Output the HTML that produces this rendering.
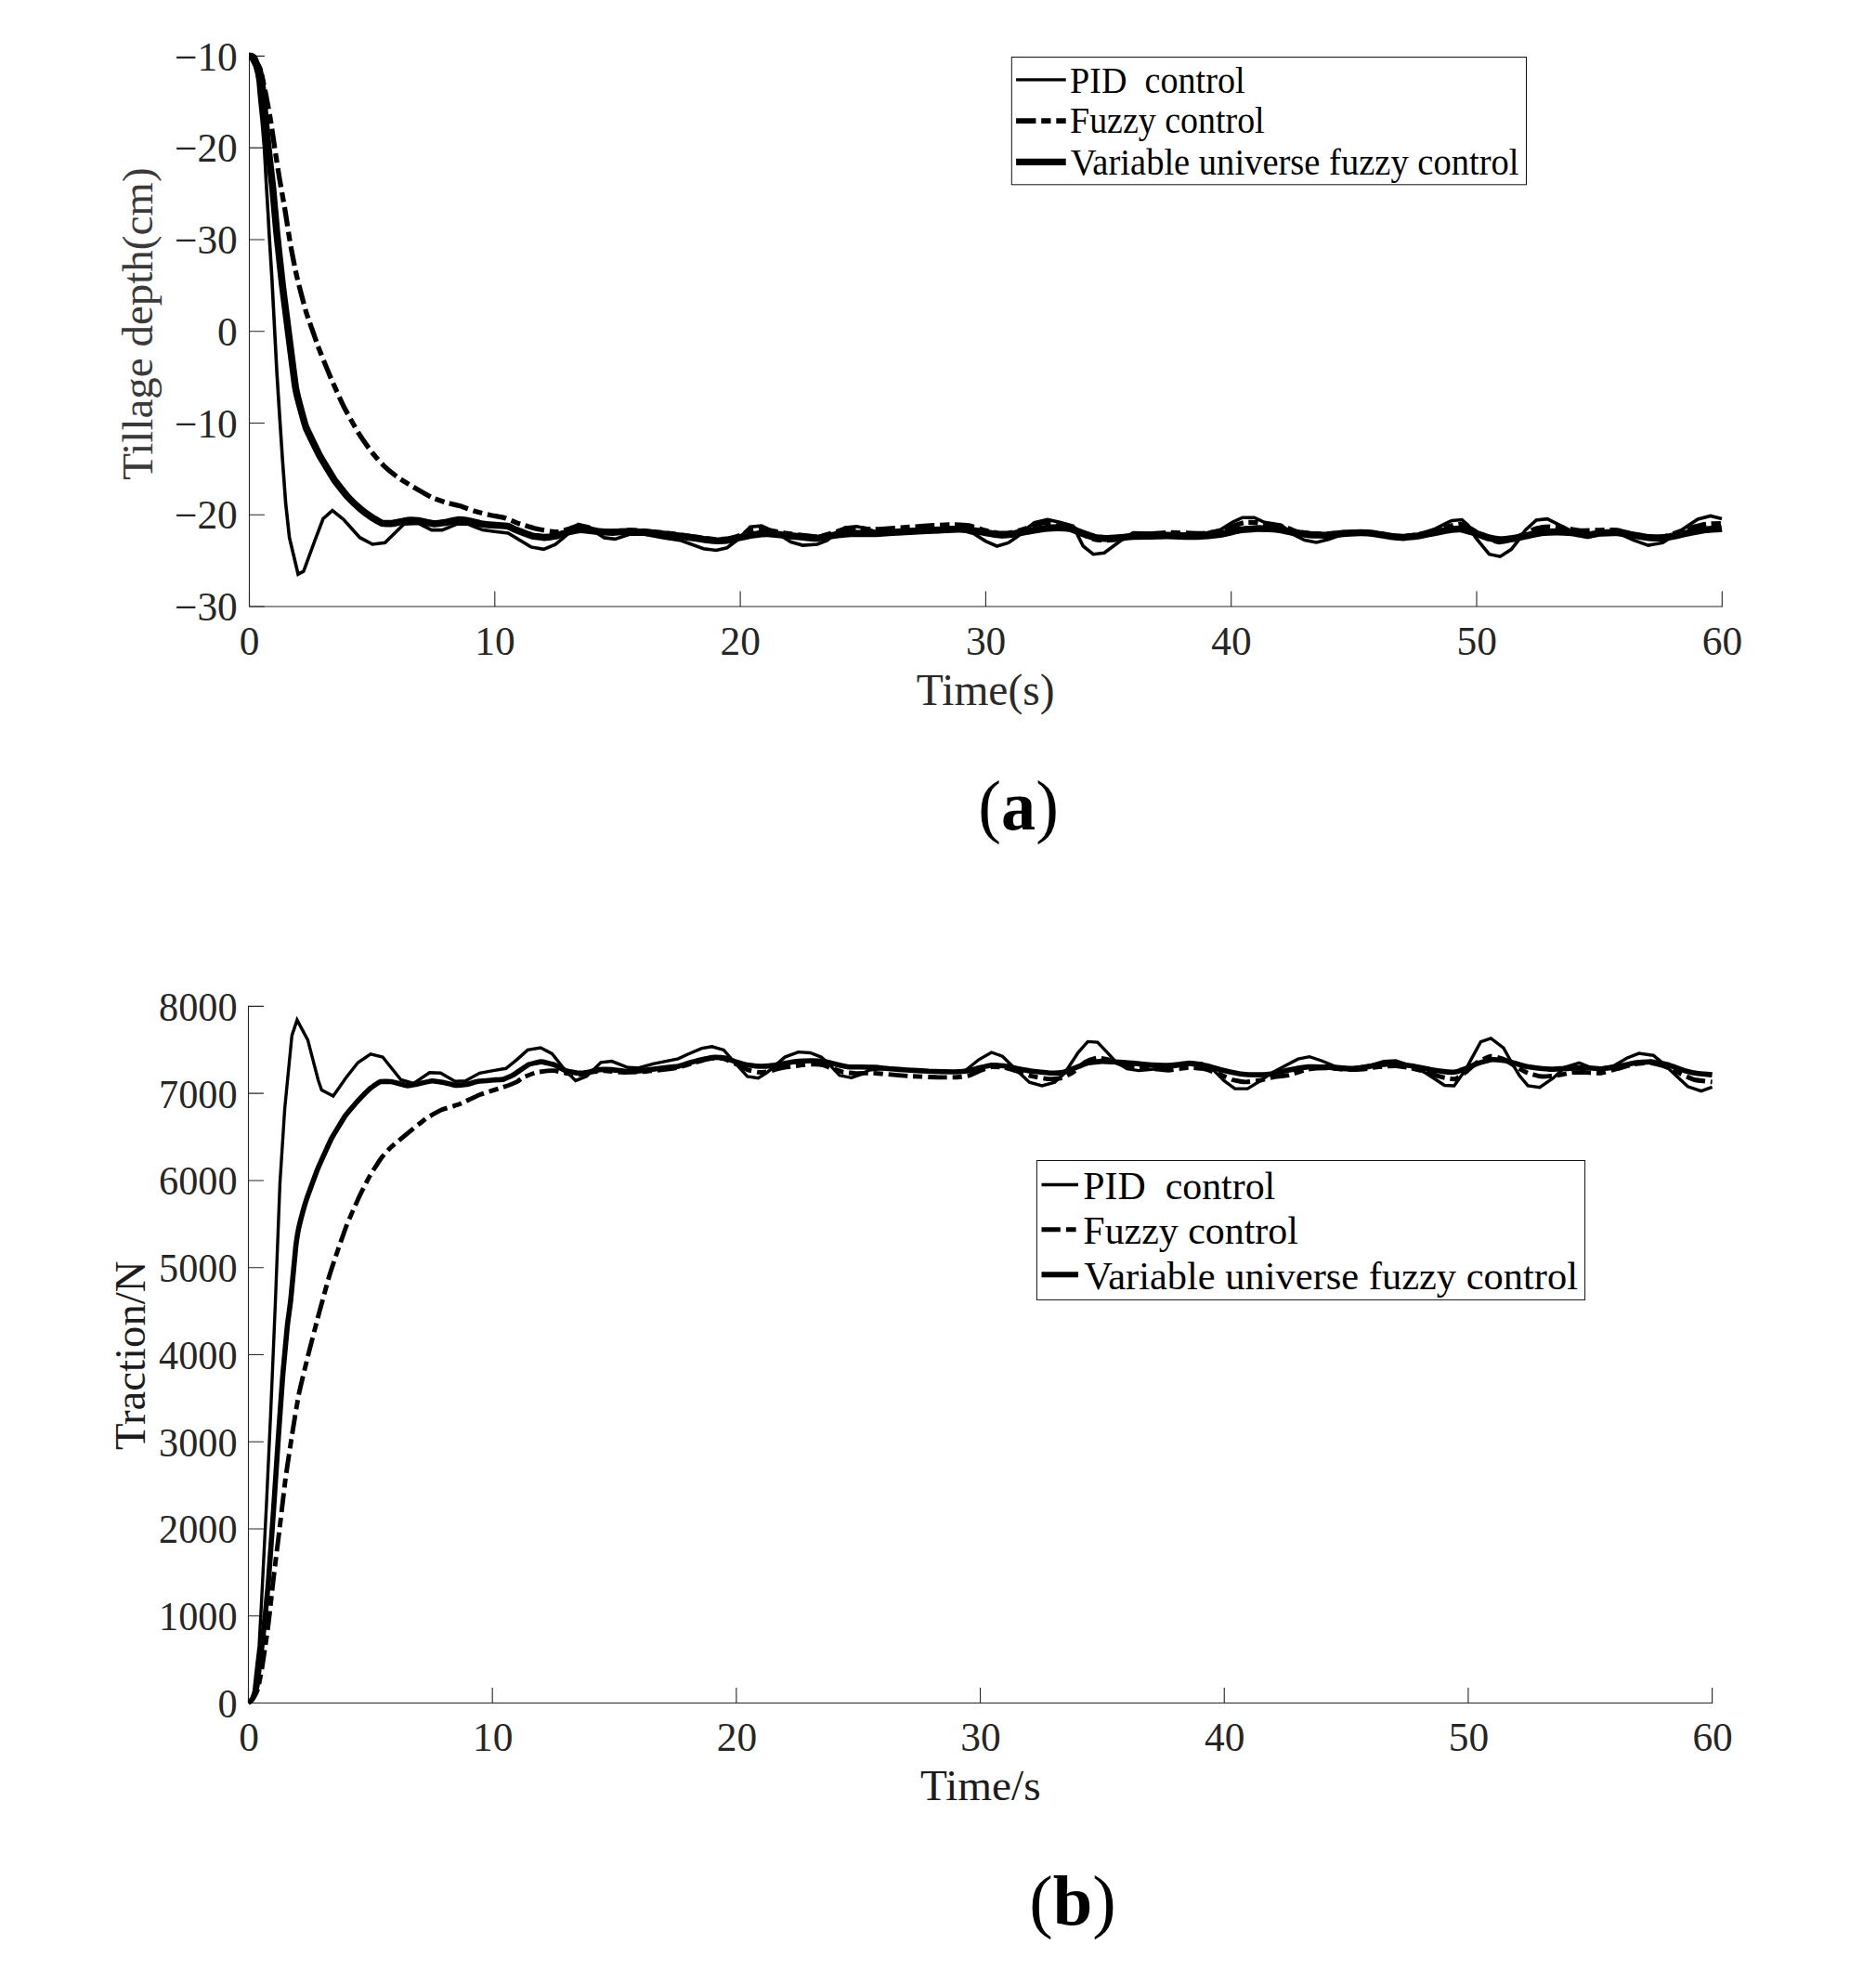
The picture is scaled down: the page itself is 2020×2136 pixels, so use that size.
<!DOCTYPE html>
<html lang="en">
<head>
<meta charset="utf-8">
<title>Tillage depth and traction simulation</title>
<style>
html,body{margin:0;padding:0;background:#fff;}
body{width:2020px;height:2136px;overflow:hidden;}
svg{display:block;}
text{font-family:"Liberation Serif","Times New Roman",Times,serif;}
.ax{stroke:#262626;stroke-width:1.1;fill:none;}
.c{fill:none;stroke:#000;stroke-linejoin:miter;stroke-linecap:butt;}
</style>
</head>
<body>
<svg width="2020" height="2136" viewBox="0 0 2020 2136">
<rect x="0" y="0" width="2020" height="2136" fill="#ffffff"/>
<defs>
<clipPath id="clipA"><rect x="267.9" y="40" width="1600" height="620"/></clipPath>
<clipPath id="clipB"><rect x="266.9" y="1070" width="1600" height="766.5"/></clipPath>
</defs>
<!-- chart (a): tillage depth -->
<g>
<path class="ax" d="M268.5 59.8 V653 H1854.9"/>
<path class="ax" d="M268.5 60.4 h16.4 M268.5 159.17 h16.4 M268.5 257.93 h16.4 M268.5 356.7 h16.4 M268.5 455.47 h16.4 M268.5 554.23 h16.4 M268.5 653 h16.4 M268.5 653 v-16.4 M532.8 653 v-16.4 M797.1 653 v-16.4 M1061.4 653 v-16.4 M1325.7 653 v-16.4 M1590 653 v-16.4 M1854.3 653 v-16.4"/>
<text transform="translate(255.8 75.6)" font-size="43.4" fill="#262626" text-anchor="end">−10</text>
<text transform="translate(255.8 174.37)" font-size="43.4" fill="#262626" text-anchor="end">−20</text>
<text transform="translate(255.8 273.13)" font-size="43.4" fill="#262626" text-anchor="end">−30</text>
<text transform="translate(255.8 371.9)" font-size="43.4" fill="#262626" text-anchor="end">0</text>
<text transform="translate(255.8 470.67)" font-size="43.4" fill="#262626" text-anchor="end">−10</text>
<text transform="translate(255.8 569.43)" font-size="43.4" fill="#262626" text-anchor="end">−20</text>
<text transform="translate(255.8 668.2)" font-size="43.4" fill="#262626" text-anchor="end">−30</text>
<text transform="translate(268.7 704.6)" font-size="43.4" fill="#262626" text-anchor="middle">0</text>
<text transform="translate(533 704.6)" font-size="43.4" fill="#262626" text-anchor="middle">10</text>
<text transform="translate(797.3 704.6)" font-size="43.4" fill="#262626" text-anchor="middle">20</text>
<text transform="translate(1061.6 704.6)" font-size="43.4" fill="#262626" text-anchor="middle">30</text>
<text transform="translate(1325.9 704.6)" font-size="43.4" fill="#262626" text-anchor="middle">40</text>
<text transform="translate(1590.2 704.6)" font-size="43.4" fill="#262626" text-anchor="middle">50</text>
<text transform="translate(1854.5 704.6)" font-size="43.4" fill="#262626" text-anchor="middle">60</text>
<text transform="translate(1061.2 758.5) scale(0.982 1)" font-size="48.4" fill="#2a2a2a" text-anchor="middle">Time(s)</text>
<text transform="translate(164.1 348.6) rotate(-90)" font-size="47" fill="#3a3a3a" text-anchor="middle">Tillage depth(cm)</text>
</g>
<g clip-path="url(#clipA)">
<path class="c" stroke-width="3.6" d="M268.5 60.4 L270.8 64 L274.4 71.3 L276.7 79.9 L278 88.4 L279.1 101.2 L280.4 114 L282.1 130.3 L284.6 159 L286.9 200.8 L288.6 228.8 L289.8 251.2 L292.8 300 L294.9 340 L298.1 400.8 L301.3 451.2 L304.2 495 L307.6 541.6 L311.6 578.7 L321 618.2 L326.9 615 L339 582 L347.9 558.5 L357.9 549.7 L369.7 559 L387.4 578.7 L401.1 586 L414.5 584.4 L435 564.2 L450.3 563.4 L464.8 570.6 L476.1 570.6 L492.3 564.2 L503.5 564.2 L519.7 570.6 L532.6 572.3 L547.2 574 L571.7 588.9 L585.3 591.3 L598 586.2 L608.9 577.1 L622.5 564.4 L634.2 567.2 L643.3 574.4 L650.5 578.9 L662.3 580.4 L677.7 575.3 L694 575.3 L714 578.9 L732.1 581.6 L757.5 590.7 L771.1 592.5 L782.8 589.8 L793.7 581.6 L807.9 567.2 L820 566.2 L828.1 569.9 L844.5 578.9 L851.7 583.5 L864.4 587.1 L880 586 L890.9 581.6 L899.9 573.5 L909.9 568.1 L922.6 566.8 L932.6 569 L943.4 572.6 L970 572 L997.8 571.5 L1034 570.5 L1048.5 574.4 L1061.2 582.6 L1073.5 588 L1085.7 584.4 L1095.7 577.5 L1105.6 569 L1113.8 562.6 L1127.9 559.4 L1141 562.3 L1155.5 566.2 L1166.3 588 L1177.2 596.7 L1189 595.2 L1206.2 582.6 L1220 573.5 L1256.2 574.4 L1292.5 575.3 L1314.2 570.2 L1326.9 562.3 L1337.8 557.2 L1350.5 557.2 L1361.4 562.3 L1379.5 565.3 L1392.2 575.3 L1404.9 581.6 L1417.5 584 L1430.2 580.7 L1442.9 576.2 L1459.2 573.5 L1482.8 574.4 L1497.3 578 L1511.8 578.9 L1528.1 576.2 L1544.4 569.9 L1560 561.9 L1563.6 560.4 L1574.1 559.5 L1580.8 565.3 L1589 578.9 L1603.5 596.7 L1615.3 599.2 L1627.1 591.6 L1634.3 582.6 L1642.5 570.8 L1654.2 559.9 L1666 558.6 L1679.6 565.3 L1690.5 570.8 L1709.5 578.6 L1723.1 574.4 L1741.2 573.5 L1759.3 581.6 L1774.8 587.1 L1790.2 584.4 L1802.8 576.2 L1815.5 567.2 L1828.2 559 L1841.8 555.4 L1854 558.6"/>
<path class="c" stroke-width="5.3" stroke-dasharray="21 5.7 10.3 5.7" stroke-dashoffset="-2" d="M266 60.4 C266.4 60.4 270.2 60.4 270.8 60.5 C271.4 60.6 272.5 61.5 272.8 61.8 C273.1 62.1 274.2 63.2 274.5 63.7 C274.8 64.2 276.1 66.8 276.6 67.8 C277.1 68.8 279.8 72.7 280.6 75.5 C281.4 78.3 285.3 96.7 286.2 101.3 C287.1 105.9 290.7 125.2 291.5 130.3 C292.3 135.4 295.5 157.4 296.3 162.6 C297.1 167.8 300.2 188 301.1 193.2 C302 198.4 305.8 219.4 306.8 225.5 C307.8 231.6 312.1 259.8 313.2 265.8 C314.3 271.8 318.3 292.2 319.7 298 C321.1 303.8 327.5 329 329.4 335.2 C331.3 341.4 340.2 366.5 342.3 372.3 C344.4 378.1 352.9 399.1 355.2 404.5 C357.5 409.9 367.1 431.7 369.7 436.8 C372.2 441.9 383.2 461.6 385.8 465.8 C388.4 470 398 483.8 400.3 486.8 C402.6 489.8 410.9 499.1 413.2 501.3 C415.5 503.5 424.9 511.4 427.7 513.4 C430.5 515.4 444 523.7 447.1 525.5 C450.2 527.3 462.1 534.2 464.8 535.5 C467.5 536.8 476.8 540 479.4 540.8 C482 541.6 492.8 544 495.5 544.8 C498.2 545.6 508.9 549.7 511.6 550.5 C514.3 551.3 525 553.9 527.7 554.5 C530.4 555.1 541.4 557 543.9 557.7 C546.4 558.5 555.4 562.6 558.1 563.5 C560.8 564.4 573.3 568.3 576.2 569 C579.1 569.7 590.5 571.7 592.6 572 C594.7 572.3 599.9 572.8 601.6 572.6 C603.3 572.4 610.8 570 612.5 569.5 C614.2 569 620.7 566.2 622.5 566.2 C624.3 566.2 632 568.5 634.2 569 C636.4 569.5 646.3 571.5 648.7 571.7 C651.1 572 660.8 572.1 663.2 572 C665.6 571.9 675.1 570.8 677.7 570.8 C680.3 570.8 690.4 571.4 694 571.7 C697.6 572 717.4 574 721.2 574.4 C725 574.8 736.3 576.4 739.3 576.8 C742.3 577.2 754.8 579 757.5 579.3 C760.2 579.6 769.7 580.7 772 580.7 C774.3 580.7 782.6 580.2 784.7 579.8 C786.8 579.4 795.3 577 797.3 576.2 C799.3 575.5 806.3 571.4 808.2 570.8 C810.1 570.2 818.2 569 820 569 C821.8 569 827.9 570.9 829.9 571.3 C831.9 571.7 841.8 573.5 844.5 573.9 C847.2 574.3 859.6 575.9 862.6 576.2 C865.6 576.5 877.3 578.1 880 578 C882.7 577.9 892 575.1 894.5 574.4 C897 573.7 907.6 570 909.9 569.5 C912.2 569 920 568.4 922.6 568.4 C925.2 568.4 937.6 569.9 941.6 569.9 C945.6 569.9 965.9 568.4 970.6 568.1 C975.3 567.8 993.3 566.5 997.8 566.2 C1002.3 565.9 1021.2 564.8 1025 564.8 C1028.8 564.8 1040.4 565.4 1043.1 565.9 C1045.8 566.4 1055 569.5 1057.6 570.2 C1060.2 570.9 1071.3 573.6 1073.9 573.9 C1076.5 574.2 1085.8 573.9 1088.4 573.5 C1091 573.1 1102.4 569.8 1104.7 569 C1107 568.2 1113.6 565 1115.6 564.4 C1117.6 563.8 1126.2 562.3 1128.3 562.3 C1130.4 562.3 1138.7 563.9 1141 564.4 C1143.3 564.9 1153.4 567.2 1155.5 568.1 C1157.6 569 1164.3 574.2 1166.3 575.3 C1168.3 576.3 1176.9 580.2 1179 580.7 C1181.1 581.2 1189.4 581.7 1191.7 581.6 C1194 581.5 1203.8 580.2 1206.2 579.8 C1208.6 579.4 1215.8 577 1220 576.5 C1224.2 576 1250.2 573.7 1256.2 573.5 C1262.2 573.3 1287.7 574.5 1292.5 574.4 C1297.3 574.3 1311.2 572.7 1314.2 572 C1317.2 571.3 1326.6 567 1328.7 566.2 C1330.8 565.4 1337.5 562.9 1339.6 562.6 C1341.7 562.3 1352 562.4 1354.1 562.6 C1356.2 562.8 1362.6 564.4 1365 564.8 C1367.4 565.2 1380.7 566.6 1383.1 567.2 C1385.5 567.8 1391.7 571.1 1394 571.7 C1396.3 572.3 1407.4 574.1 1410.3 574.4 C1413.2 574.7 1425.4 575 1428.4 574.9 C1431.4 574.8 1443.5 573.7 1446.5 573.5 C1449.5 573.3 1461.7 572.6 1464.7 572.6 C1467.7 572.6 1480.1 573.5 1482.8 573.9 C1485.5 574.2 1494.9 576.5 1497.3 576.8 C1499.7 577.1 1509.2 577.6 1511.8 577.5 C1514.4 577.4 1525.4 575.9 1528.1 575.3 C1530.8 574.7 1541.7 571.5 1544.4 570.8 C1547.1 570.1 1557.6 567.2 1560 566.7 C1562.4 566.2 1570.7 564.2 1572.7 564.4 C1574.7 564.6 1581.2 567.7 1583.6 569 C1586 570.3 1599.1 578.6 1601.7 579.8 C1604.3 581 1612.1 583.4 1614.4 583.5 C1616.7 583.6 1626.6 581.5 1628.9 580.7 C1631.2 579.9 1639.5 575.4 1641.6 574.4 C1643.7 573.4 1651.9 569.6 1654.2 569 C1656.5 568.4 1666.3 567.2 1668.7 567.2 C1671.1 567.2 1680.5 568.1 1683.2 568.4 C1685.9 568.7 1698.1 571.1 1701.4 571.3 C1704.7 571.5 1719.8 570.8 1723.1 570.8 C1726.4 570.8 1738.2 570.4 1741.2 570.8 C1744.2 571.2 1756.3 574.6 1759.3 575.3 C1762.3 575.9 1774.8 578.4 1777.5 578.6 C1780.2 578.8 1789.6 578 1792 577.5 C1794.4 577 1804.1 573.9 1806.5 573.1 C1808.9 572.3 1818.4 568.8 1821 568.1 C1823.6 567.4 1834.5 564.8 1837.3 564.4 C1840 564 1852.6 563.6 1854 563.5"/>
<path class="c" stroke-width="7.6" stroke-linejoin="round" d="M266 60.4 C266.2 60.4 270.5 60.4 270.8 60.5 C271.1 60.6 272.4 61.6 272.6 61.8 C272.8 62 273.9 63.4 274.1 63.7 C274.3 64 275.6 67.8 275.9 68.4 C276.2 69 279.1 75.5 279.4 76.6 C279.7 77.7 281.8 88.2 282 90 C282.2 91.8 283.9 109.1 284.2 112.6 C284.5 116.1 288.3 155 288.8 159.4 C289.3 163.8 293.1 196.8 293.6 201.3 C294.1 205.8 297.4 244.5 297.9 249.7 C298.4 254.9 303.5 301.5 304 306 C304.5 310.5 307.8 336.3 308.3 340 C308.8 343.7 312.9 376.5 313.4 380.3 C313.9 384.1 317.6 413.1 318 415.8 C318.4 418.5 321.4 431.3 322 433.5 C322.6 435.7 328.3 457.2 329.4 460 C330.5 462.8 342.4 487.2 343.9 490 C345.4 492.8 358.5 514.4 360 516.6 C361.5 518.9 373.1 533.5 374.5 535 C375.9 536.5 386.1 546.2 387.4 547.3 C388.7 548.4 399.1 556.2 400.3 557 C401.5 557.8 410.5 563.1 411.6 563.4 C412.7 563.7 421.5 563.6 422.9 563.4 C424.3 563.2 437.6 560.3 439 560.2 C440.4 560.1 448.9 560.4 450.3 560.6 C451.7 560.8 465.8 563.8 467.3 563.9 C468.8 564 478.1 562.8 479.4 562.6 C480.6 562.4 491.1 559.8 492.3 559.7 C493.5 559.6 502.2 560.4 503.5 560.6 C504.8 560.8 516.5 563.7 518 563.9 C519.5 564.1 532.7 565.4 534.2 565.5 C535.7 565.6 546 566.3 547.1 566.6 C548.2 566.9 555 570.3 556.3 570.8 C557.6 571.3 571.1 576.4 572.6 576.8 C574.1 577.2 584 578.6 585.3 578.6 C586.6 578.6 596.6 577.4 598 577.1 C599.4 576.8 611.1 572.9 612.5 572.6 C613.9 572.3 623.8 570.2 625.2 570.2 C626.7 570.2 639.8 571.9 641.5 572 C643.2 572.1 657.8 573.1 659.6 573.1 C661.4 573.1 676 572 677.7 572 C679.4 572 691.8 572.9 694 573.1 C696.2 573.3 718.9 575.5 721.2 575.7 C723.5 575.9 737.5 577.8 739.3 578 C741.1 578.2 755.9 580.5 757.5 580.7 C759.1 580.9 770.6 582.2 772 582.2 C773.4 582.2 783.4 581.8 784.7 581.6 C786 581.4 795.9 578.9 797.3 578.6 C798.7 578.3 810.3 575.9 811.8 575.7 C813.2 575.5 824.7 574.4 826.3 574.4 C827.9 574.4 842.7 576 844.5 576.2 C846.3 576.4 860.8 577.8 862.6 578 C864.4 578.2 878.2 579.6 880 579.5 C881.8 579.4 896.3 576.5 898.1 576.2 C899.9 575.9 913.9 574.5 916.2 574.4 C918.5 574.3 940.7 574.5 943.4 574.4 C946.1 574.3 967.9 572.8 970.6 572.6 C973.3 572.4 995.1 571.4 997.8 571.3 C1000.5 571.2 1022.7 570 1025 569.9 C1027.3 569.8 1041.3 570 1043.1 570.2 C1044.9 570.4 1059.6 573.2 1061.2 573.5 C1062.8 573.8 1074.3 575.6 1075.7 575.7 C1077.1 575.8 1086.9 575.5 1088.4 575.3 C1089.9 575.1 1104.7 572.3 1106.5 572 C1108.3 571.7 1123.1 569.2 1124.7 569 C1126.3 568.8 1137.8 568.1 1139.2 568.1 C1140.6 568.1 1150.4 568.7 1151.8 569 C1153.2 569.3 1164.9 573.9 1166.3 574.4 C1167.7 574.9 1177.7 578.3 1179 578.6 C1180.3 578.9 1190.3 579.8 1191.7 579.8 C1193.1 579.8 1204.8 579 1206.2 578.9 C1207.6 578.8 1217.5 577.6 1220 577.5 C1222.5 577.4 1252.8 576.8 1256.2 576.8 C1259.6 576.8 1286 577.6 1288.9 577.5 C1291.8 577.4 1311.9 575.6 1314.2 575.3 C1316.5 575 1332.2 571.1 1334.2 570.8 C1336.2 570.5 1352 569 1354.1 569 C1356.2 569 1374 569.7 1375.9 569.9 C1377.8 570.1 1390.5 572.8 1392.2 573.1 C1393.9 573.4 1408.5 575.5 1410.3 575.7 C1412.1 575.9 1426.6 576.3 1428.4 576.2 C1430.2 576.1 1444.7 574.5 1446.5 574.4 C1448.3 574.3 1462.9 573.5 1464.7 573.5 C1466.5 573.5 1481.2 574.7 1482.8 574.9 C1484.4 575.1 1495.8 577.3 1497.3 577.5 C1498.8 577.7 1510.3 578.6 1511.8 578.6 C1513.3 578.6 1526.5 577.1 1528.1 576.8 C1529.7 576.5 1542.8 573.8 1544.4 573.5 C1546 573.2 1558.6 570.7 1560 570.5 C1561.4 570.3 1571.3 569.4 1572.7 569.5 C1574.1 569.6 1585.8 573 1587.2 573.5 C1588.7 574 1600.3 578.2 1601.7 578.6 C1603.1 579 1613 581 1614.4 581.1 C1615.8 581.2 1627.5 580 1628.9 579.8 C1630.4 579.6 1641.9 577.1 1643.4 576.8 C1644.9 576.5 1658.1 573.7 1659.7 573.5 C1661.3 573.3 1674.4 572.6 1676 572.6 C1677.6 572.6 1690.6 573.3 1692.3 573.5 C1694 573.7 1708 576.2 1709.5 576.2 C1711 576.2 1721.5 574 1723.1 573.9 C1724.7 573.8 1739.4 573.4 1741.2 573.5 C1743 573.6 1757.5 575.9 1759.3 576.2 C1761.1 576.5 1775.9 578.8 1777.5 578.9 C1779.1 579 1790.5 579 1792 578.9 C1793.5 578.8 1805 576.5 1806.5 576.2 C1808 575.9 1819.5 573.4 1821 573.1 C1822.5 572.8 1835.6 570.4 1837.3 570.2 C1839 570 1853.2 569.1 1854 569"/>
</g>
<g>
<rect x="1089.3" y="61.5" width="554.2" height="137.3" fill="#fff" stroke="#111" stroke-width="1"/>
<path class="c" stroke-width="3.1" d="M1094.1 85.9 H1147.7"/>
<path class="c" stroke-width="5.7" stroke-dasharray="21.3 5.8 10.3 5.8" d="M1094.1 130.1 H1147.7"/>
<path class="c" stroke-width="7.1" d="M1094.1 174.4 H1147.7"/>
<text transform="translate(1152.06 99.6) scale(0.968 1)" font-size="39.4" fill="#000" xml:space="preserve">PID  control</text>
<text transform="translate(1152.06 143.4) scale(0.963 1)" font-size="39.4" fill="#000">Fuzzy control</text>
<text transform="translate(1152.81 187.5) scale(0.9785 1)" font-size="39.4" fill="#000">Variable universe fuzzy control</text>
</g>
<text transform="translate(1053.36 892.7) scale(0.97 1)" font-size="76.5" fill="#000">(<tspan font-weight="bold">a</tspan>)</text>
<!-- chart (b): traction -->
<g>
<path class="ax" d="M267.5 1082.8 V1833.5 H1844.2"/>
<path class="ax" d="M267.5 1083.4 h16.4 M267.5 1177.16 h16.4 M267.5 1270.93 h16.4 M267.5 1364.69 h16.4 M267.5 1458.45 h16.4 M267.5 1552.21 h16.4 M267.5 1645.97 h16.4 M267.5 1739.74 h16.4 M267.5 1833.5 h16.4 M267.5 1833.5 v-16.4 M530.18 1833.5 v-16.4 M792.87 1833.5 v-16.4 M1055.55 1833.5 v-16.4 M1318.23 1833.5 v-16.4 M1580.92 1833.5 v-16.4 M1843.6 1833.5 v-16.4"/>
<text transform="translate(255.6 1098.9) scale(0.974 1)" font-size="43.4" fill="#262626" text-anchor="end">8000</text>
<text transform="translate(255.6 1192.66) scale(0.974 1)" font-size="43.4" fill="#262626" text-anchor="end">7000</text>
<text transform="translate(255.6 1286.43) scale(0.974 1)" font-size="43.4" fill="#262626" text-anchor="end">6000</text>
<text transform="translate(255.6 1380.19) scale(0.974 1)" font-size="43.4" fill="#262626" text-anchor="end">5000</text>
<text transform="translate(255.6 1473.95) scale(0.974 1)" font-size="43.4" fill="#262626" text-anchor="end">4000</text>
<text transform="translate(255.6 1567.71) scale(0.974 1)" font-size="43.4" fill="#262626" text-anchor="end">3000</text>
<text transform="translate(255.6 1661.47) scale(0.974 1)" font-size="43.4" fill="#262626" text-anchor="end">2000</text>
<text transform="translate(255.6 1755.24) scale(0.974 1)" font-size="43.4" fill="#262626" text-anchor="end">1000</text>
<text transform="translate(255.6 1849) scale(0.974 1)" font-size="43.4" fill="#262626" text-anchor="end">0</text>
<text transform="translate(268 1884.5)" font-size="43.4" fill="#262626" text-anchor="middle">0</text>
<text transform="translate(530.68 1884.5)" font-size="43.4" fill="#262626" text-anchor="middle">10</text>
<text transform="translate(793.37 1884.5)" font-size="43.4" fill="#262626" text-anchor="middle">20</text>
<text transform="translate(1056.05 1884.5)" font-size="43.4" fill="#262626" text-anchor="middle">30</text>
<text transform="translate(1318.73 1884.5)" font-size="43.4" fill="#262626" text-anchor="middle">40</text>
<text transform="translate(1581.42 1884.5)" font-size="43.4" fill="#262626" text-anchor="middle">50</text>
<text transform="translate(1844.1 1884.5)" font-size="43.4" fill="#262626" text-anchor="middle">60</text>
<text transform="translate(1055.75 1938.2)" font-size="47.3" fill="#1c1c1c" text-anchor="middle">Time/s</text>
<text transform="translate(155.9 1459.2) rotate(-90)" font-size="46.8" fill="#1c1c1c" text-anchor="middle">Traction/N</text>
</g>
<g clip-path="url(#clipB)">
<path class="c" stroke-width="3.4" d="M267.5 1833.2 L269.5 1831.5 L271.6 1828.2 L273.5 1820.6 L274.6 1810.6 L276.8 1790.4 L279 1771.9 L281.9 1718.7 L286.8 1621.9 L291.3 1525.1 L296.6 1400 L301.4 1274.3 L306.6 1193.7 L314.3 1114.9 L319.9 1098.1 L331.4 1119.6 L342.6 1162.8 L346.3 1173.5 L358.8 1180 L372.6 1160.3 L385.4 1144 L399.1 1134.9 L412 1138 L431.7 1162.5 L445.4 1166.3 L462.5 1154.8 L474.5 1155.3 L490 1164.2 L501.1 1163.7 L516.5 1155.3 L531.1 1152.6 L544.8 1150.3 L556.8 1140.6 L568.2 1130.4 L582.1 1128.1 L594.4 1134.4 L608 1151.6 L619.8 1163.4 L631.6 1158.9 L647 1143.9 L658.8 1142.6 L676 1149.3 L686.9 1149.8 L703.2 1145.3 L730.3 1139.9 L741.2 1134.8 L755.7 1128.6 L766.6 1126.8 L779.3 1130.4 L788.3 1140.8 L795.6 1148.9 L804.7 1158.9 L816.4 1160.7 L826.4 1154.4 L845.1 1138.1 L859.6 1132.6 L872.4 1133.5 L884.3 1138.1 L891.2 1144.1 L904 1157.8 L916.8 1160.3 L928.7 1156.1 L936 1152 L950 1150.5 L976.5 1152 L1000 1153.3 L1026.9 1154 L1039.5 1152.6 L1054 1140.8 L1067.6 1133 L1079.4 1137.2 L1092.1 1149.8 L1108.4 1165.2 L1122 1168.9 L1135.6 1165.2 L1146.5 1155.3 L1161 1133 L1171.3 1121.4 L1181.8 1122.1 L1191.8 1132.6 L1201.7 1143.5 L1213.5 1150.7 L1226.2 1152.6 L1240 1151.2 L1267.2 1148 L1279.9 1143.5 L1294.4 1144.9 L1307.1 1152.6 L1317.9 1163.4 L1329.7 1172.1 L1343.3 1172.1 L1356 1164.3 L1370.5 1154.4 L1385 1146.8 L1397.7 1140.2 L1410 1137.7 L1423 1142 L1437.5 1148 L1457.5 1149.8 L1475.6 1146.8 L1490.1 1142.6 L1502.8 1142 L1517.3 1146.8 L1533.6 1154.4 L1546.3 1162.5 L1555.3 1168.5 L1565.8 1168.9 L1578.1 1151.6 L1585.4 1138.1 L1594.4 1121.7 L1605.3 1117.8 L1618.9 1128.1 L1628.9 1146.2 L1636.1 1158 L1645.2 1168.9 L1657.9 1170.7 L1672.4 1160.7 L1685 1148.9 L1700.5 1144.4 L1714 1149.8 L1724.9 1149.8 L1737.6 1147.5 L1752.1 1139 L1764.8 1134.1 L1780.2 1136.2 L1790.2 1144.4 L1804.7 1158 L1817.3 1169.8 L1831.8 1174.7 L1843.6 1170.3"/>
<path class="c" stroke-width="4.9" stroke-dasharray="20.6 5.9 10.2 5.9" stroke-dashoffset="2.5" d="M267.5 1833.2 C267.7 1833.1 269.4 1831.9 269.8 1831.6 C270.2 1831.3 271.6 1830.1 272 1829.5 C272.4 1828.9 274.4 1825.7 274.9 1824.7 C275.3 1823.8 277.2 1820.5 277.8 1818.1 C278.4 1815.7 281.6 1799 282.2 1795.4 C282.8 1791.8 284.6 1779.3 285.2 1775.3 C285.8 1771.3 288.3 1754 289.1 1747.7 C289.9 1741.4 293.5 1707.8 294.5 1699.3 C295.5 1690.8 299.9 1655 301 1646.1 C302.1 1637.2 306.2 1601.4 307.3 1592.9 C308.4 1584.4 313.3 1552.2 314.5 1544.5 C315.7 1536.8 320.4 1508 321.8 1500.9 C323.2 1493.8 330 1466.5 331.6 1459.8 C333.2 1453.1 340.3 1426.1 341.6 1421.1 C342.9 1416.1 346.2 1404 347.3 1400 C348.4 1396 353.3 1378 354.6 1373.7 C355.9 1369.4 361.5 1352.6 363.1 1348 C364.7 1343.4 371.5 1323.5 373.4 1318.8 C375.3 1314.1 383.4 1295.7 385.4 1291.4 C387.4 1287.1 395.3 1271.2 397.4 1267.4 C399.5 1263.6 409.1 1248.7 411.1 1246 C413.1 1243.3 419.1 1236.9 421.4 1234.8 C423.7 1232.7 435.5 1222.9 438.6 1220.3 C441.7 1217.7 456 1206.1 459.1 1204 C462.2 1201.9 473.3 1195.9 476.3 1194.6 C479.3 1193.3 491.7 1190 495.1 1188.6 C498.5 1187.2 513.5 1179.8 517.4 1178.3 C521.3 1176.8 538.1 1171.7 541.4 1170.6 C544.7 1169.5 554.9 1165.5 556.8 1164.6 C558.6 1163.7 561.8 1160.6 563.6 1159.8 C565.4 1159 575.4 1155 578.1 1154.4 C580.8 1153.8 593.6 1152.5 596.2 1152.6 C598.8 1152.7 606.8 1154.9 608.9 1155.3 C611 1155.7 619.3 1157.2 621.6 1157.1 C623.9 1157 633.7 1154.8 636.1 1154.4 C638.5 1154.1 647.9 1152.9 650.6 1152.9 C653.3 1152.9 665.4 1154.3 668.7 1154.4 C672 1154.5 686.7 1154.2 690.5 1154 C694.3 1153.8 710.7 1152 714 1151.6 C717.3 1151.2 727.7 1149.9 730.3 1149.3 C732.9 1148.7 742.4 1145.6 744.8 1144.9 C747.2 1144.2 757.2 1141.3 759.3 1140.8 C761.4 1140.3 768.5 1139 770.2 1139 C771.9 1139 778.4 1139.7 780.2 1140.2 C782 1140.7 790 1144.3 792 1145.3 C794 1146.2 802.6 1150.8 804.7 1151.6 C806.8 1152.4 815.3 1154.2 817.3 1154.4 C819.3 1154.6 826.3 1153.9 828.2 1153.5 C830.1 1153.1 837.6 1150.6 840 1150.1 C842.4 1149.6 854.3 1147.9 857.1 1147.5 C859.9 1147.1 871.7 1145.9 874.1 1145.8 C876.5 1145.7 884.3 1146.1 886.1 1146.5 C887.9 1146.9 893.6 1149.4 895.4 1150.1 C897.2 1150.8 906.1 1153.8 908.2 1154.3 C910.3 1154.8 918.5 1155.5 921 1155.6 C923.5 1155.7 934.9 1155.1 938.1 1155.2 C941.3 1155.3 955.9 1156.6 959.4 1156.9 C962.9 1157.2 976.6 1158.4 980.7 1158.6 C984.8 1158.8 1004.6 1159.7 1008.7 1159.8 C1012.9 1159.9 1027.6 1160 1030.5 1159.8 C1033.4 1159.6 1041.1 1158.6 1043.2 1158 C1045.3 1157.4 1053.9 1153.4 1055.9 1152.6 C1057.9 1151.8 1065.5 1148.9 1067.6 1148.6 C1069.7 1148.3 1078.9 1148.9 1081.2 1149.3 C1083.5 1149.7 1093.3 1152.7 1095.7 1153.5 C1098.1 1154.3 1107.5 1157.7 1110.2 1158.4 C1112.9 1159.1 1125.6 1161.4 1128.3 1161.6 C1131 1161.8 1140.5 1161.3 1142.8 1160.7 C1145.1 1160.1 1153.4 1155.8 1155.5 1154.4 C1157.6 1153 1166.1 1144.8 1168.2 1143.5 C1170.3 1142.2 1178.8 1139.2 1180.9 1139 C1183 1138.8 1191.3 1140.2 1193.6 1140.8 C1195.9 1141.4 1205.7 1145.5 1208.1 1146.2 C1210.5 1146.9 1219.9 1148.5 1222.6 1148.9 C1225.3 1149.3 1237 1150.2 1240 1150.5 C1243 1150.8 1254.8 1152.3 1258.1 1152.2 C1261.4 1152.1 1276.6 1149.4 1279.9 1149.3 C1283.2 1149.2 1295.3 1150.5 1298 1151.1 C1300.7 1151.7 1310.1 1155.2 1312.5 1156.2 C1314.9 1157.2 1324.6 1161.8 1327 1162.5 C1329.4 1163.2 1339.1 1164.9 1341.5 1164.9 C1343.9 1165 1353.6 1163.5 1356 1163.1 C1358.4 1162.7 1367.9 1160.3 1370.5 1159.8 C1373.1 1159.3 1383.6 1158.3 1386.8 1157.6 C1390 1156.9 1405 1151.8 1408.5 1151.1 C1412 1150.4 1425 1149.8 1428.5 1149.8 C1432 1149.8 1446.9 1151.5 1450.2 1151.6 C1453.5 1151.7 1465.4 1151.3 1468.3 1151.1 C1471.2 1150.8 1481.8 1148.9 1484.7 1148.6 C1487.6 1148.3 1499.9 1147.4 1502.8 1147.5 C1505.7 1147.6 1516.5 1149.3 1519.1 1149.8 C1521.7 1150.3 1531.2 1152.8 1533.6 1153.5 C1536 1154.2 1546 1157.8 1548.1 1158.4 C1550.2 1159 1557.4 1160.7 1559 1161 C1560.6 1161.3 1565.6 1162.1 1567.2 1161.6 C1568.8 1161 1576.1 1155.9 1578.1 1154.4 C1580.1 1152.9 1588.5 1144.9 1590.8 1143.5 C1593.1 1142.1 1602.9 1137.4 1605.3 1137.2 C1607.7 1137 1617.5 1139.8 1619.8 1140.8 C1622.1 1141.8 1630.4 1147.4 1632.5 1148.6 C1634.6 1149.8 1642.9 1154.4 1645.2 1155.3 C1647.5 1156.2 1657.1 1158.7 1659.7 1158.9 C1662.3 1159.1 1673.3 1158.3 1676 1158 C1678.7 1157.7 1689.9 1155 1692.3 1154.7 C1694.7 1154.4 1702.4 1154.4 1705 1154.4 C1707.6 1154.5 1720.1 1155.6 1723.1 1155.3 C1726.1 1155 1738.2 1151.5 1741.2 1150.7 C1744.2 1149.9 1756.3 1146.2 1759.3 1145.7 C1762.3 1145.2 1774.6 1144.2 1777.5 1144.4 C1780.4 1144.6 1791.1 1147.6 1793.8 1148.6 C1796.5 1149.6 1807.5 1155 1810.1 1156.2 C1812.7 1157.4 1821.8 1161.8 1824.6 1162.5 C1827.4 1163.2 1842 1164.7 1843.6 1164.9"/>
<path class="c" stroke-width="5.6" stroke-linejoin="round" d="M267.5 1833.2 C267.6 1833.1 269.4 1831.8 269.6 1831.6 C269.8 1831.4 271.7 1829.1 272 1828.5 C272.3 1827.9 275.2 1820.9 275.5 1820 C275.8 1819.1 277.3 1812.1 277.5 1810.6 C277.7 1809.1 279.3 1792.2 279.6 1790 C279.9 1787.8 282.2 1771.2 282.7 1767 C283.2 1762.8 288.1 1713.9 288.7 1706.6 C289.3 1699.3 294.3 1629.8 294.8 1621.9 C295.3 1614 299.1 1556.3 299.6 1549.3 C300.1 1542.3 303.9 1487.6 304.4 1481.6 C304.9 1475.6 308.9 1432.5 309.3 1428.4 C309.7 1424.3 312.5 1404.4 313 1400 C313.5 1395.6 318.1 1345.2 318.6 1341.1 C319.1 1337 322.2 1319.5 322.8 1317.1 C323.4 1314.7 328.7 1295.3 329.7 1292.3 C330.7 1289.3 341.2 1260.4 342.6 1257.1 C344 1253.8 355.6 1228.2 357.1 1225.4 C358.6 1222.6 370.3 1203.4 371.7 1201.4 C373.1 1199.4 384 1186.6 385.4 1185.1 C386.8 1183.6 397.9 1172.4 399.1 1171.4 C400.3 1170.4 408.3 1164.9 409.4 1164.6 C410.5 1164.3 420 1164.4 421.4 1164.6 C422.8 1164.8 436.4 1168.6 437.7 1168.8 C439 1169 445.7 1167.9 447.1 1167.6 C448.5 1167.3 463.6 1163.8 465.1 1163.7 C466.6 1163.6 476.8 1165.2 478 1165.4 C479.2 1165.6 488.8 1168.4 490 1168.5 C491.2 1168.6 500.7 1167.8 502 1167.6 C503.3 1167.4 514.2 1164.2 515.7 1164 C517.2 1163.8 529.8 1162.9 531.1 1162.8 C532.4 1162.7 541.2 1162.3 542.3 1162 C543.4 1161.7 552.1 1157.6 553.4 1156.8 C554.7 1156 567.6 1146.9 569.1 1146.2 C570.6 1145.5 581.3 1143.1 582.7 1143.1 C584.1 1143.1 594.9 1145.7 596.2 1146.2 C597.5 1146.7 607.6 1152.1 608.9 1152.6 C610.2 1153.1 620.4 1155.2 621.6 1155.3 C622.8 1155.4 631.3 1154.6 632.5 1154.4 C633.7 1154.2 643.9 1151.7 645.2 1151.6 C646.5 1151.5 657.3 1151.5 658.8 1151.6 C660.3 1151.7 674.4 1153.5 676 1153.5 C677.6 1153.5 688.6 1152.8 690.5 1152.6 C692.4 1152.4 712 1150 714 1149.8 C716 1149.6 728.8 1148.3 730.3 1148 C731.8 1147.7 743.3 1143.9 744.8 1143.5 C746.2 1143.1 758 1140.2 759.3 1139.9 C760.6 1139.6 769.2 1138.4 770.2 1138.4 C771.2 1138.4 779.1 1138.8 780.2 1139 C781.3 1139.2 790.7 1142.7 792 1143.1 C793.3 1143.5 805.1 1146.6 806.5 1146.8 C807.9 1147 817.9 1148 819.2 1148 C820.5 1148 830.8 1147.2 831.8 1147.1 C832.8 1147 838.7 1146 840 1145.8 C841.3 1145.6 855.4 1143 857.1 1142.8 C858.8 1142.6 872.6 1142 874.1 1142 C875.6 1142 886.5 1142.6 887.8 1142.8 C889.1 1143 898.5 1145.5 899.7 1145.8 C900.9 1146.1 911.2 1148.2 912.5 1148.4 C913.8 1148.6 923.8 1148.8 925.3 1148.8 C926.8 1148.8 940.6 1149 942.3 1149.1 C944 1149.2 957.7 1150.7 959.4 1150.8 C961.1 1150.9 974.5 1151.9 976.5 1152 C978.5 1152.1 997.5 1153.2 1000 1153.3 C1002.5 1153.4 1024.8 1154 1026.9 1154 C1029 1154 1040 1153.1 1041.4 1152.9 C1042.8 1152.7 1052.7 1150.1 1054 1149.8 C1055.3 1149.5 1066.2 1146.9 1067.6 1146.8 C1069 1146.7 1079.8 1147.3 1081.2 1147.5 C1082.6 1147.7 1094.1 1150.1 1095.7 1150.4 C1097.3 1150.7 1112 1153.3 1113.8 1153.5 C1115.6 1153.7 1130.5 1155.3 1132 1155.3 C1133.5 1155.3 1143.4 1154.7 1144.7 1154.4 C1146 1154.1 1155.9 1150.3 1157.3 1149.8 C1158.7 1149.3 1170.3 1144.8 1171.8 1144.4 C1173.2 1144 1184.7 1142.6 1186.3 1142.6 C1187.9 1142.6 1202.7 1143.4 1204.5 1143.5 C1206.3 1143.6 1220.8 1144.7 1222.6 1144.9 C1224.4 1145.1 1238 1146.5 1240 1146.6 C1242 1146.7 1259.7 1146.9 1261.7 1146.8 C1263.7 1146.7 1278 1144.9 1279.9 1144.9 C1281.8 1144.9 1297.9 1147.1 1299.8 1147.5 C1301.7 1147.9 1316.1 1152.2 1317.9 1152.6 C1319.7 1153 1334.3 1156 1336 1156.2 C1337.7 1156.4 1350.8 1157.1 1352.4 1157.1 C1354 1157.1 1367.1 1156.4 1368.7 1156.2 C1370.3 1156 1383 1153 1385 1152.6 C1387 1152.2 1406.3 1148.8 1408.5 1148.6 C1410.7 1148.4 1426.4 1148.8 1428.5 1148.9 C1430.6 1149 1448.2 1150.7 1450.2 1150.7 C1452.2 1150.7 1466.6 1149.5 1468.3 1149.3 C1470 1149.1 1483 1146.4 1484.7 1146.2 C1486.4 1146 1500.9 1145.2 1502.8 1145.3 C1504.7 1145.4 1520.6 1147.7 1522.7 1148 C1524.8 1148.3 1542.5 1151.9 1544.5 1152.2 C1546.5 1152.5 1561.3 1154.3 1562.6 1154.4 C1563.9 1154.5 1569.1 1153.6 1570 1153.4 C1570.9 1153.2 1578.8 1150.2 1579.9 1149.8 C1581 1149.3 1591.2 1144.9 1592.6 1144.4 C1594 1144 1605.6 1140.9 1607.1 1140.8 C1608.5 1140.7 1620.1 1141.7 1621.6 1142 C1623 1142.3 1634.6 1145.8 1636.1 1146.2 C1637.5 1146.6 1649 1149.1 1650.6 1149.3 C1652.2 1149.5 1666.9 1151 1668.7 1151.1 C1670.5 1151.2 1685.1 1150.5 1686.9 1150.4 C1688.7 1150.3 1703.2 1149.3 1705 1149.3 C1706.8 1149.3 1721.3 1150.7 1723.1 1150.7 C1724.9 1150.7 1739.4 1148.9 1741.2 1148.6 C1743 1148.3 1757.5 1144.7 1759.3 1144.4 C1761.1 1144.1 1775.7 1143 1777.5 1143.1 C1779.3 1143.2 1793.8 1145.7 1795.6 1146.2 C1797.4 1146.7 1812.1 1152.1 1813.7 1152.6 C1815.3 1153.1 1826.7 1155.6 1828.2 1155.8 C1829.7 1156 1842.8 1157 1843.6 1157.1"/>
</g>
<g>
<rect x="1116.4" y="1249.5" width="590.2" height="149.9" fill="#fff" stroke="#111" stroke-width="1"/>
<path class="c" stroke-width="3.5" d="M1121.5 1275.4 H1161"/>
<path class="c" stroke-width="5" stroke-dasharray="20.3 6.1 10.7 6.1" d="M1121.5 1323.7 H1161"/>
<path class="c" stroke-width="6" d="M1121.5 1372.2 H1161"/>
<text transform="translate(1166.34 1291) scale(0.98 1)" font-size="42.7" fill="#000" xml:space="preserve">PID  control</text>
<text transform="translate(1166.34 1339.1) scale(0.9817 1)" font-size="42.7" fill="#000">Fuzzy control</text>
<text transform="translate(1167.18 1388) scale(0.995 1)" font-size="42.7" fill="#000">Variable universe fuzzy control</text>
</g>
<text transform="translate(1108.26 2071.9)" font-size="76.5" fill="#000">(<tspan font-weight="bold">b</tspan>)</text>
</svg>
</body>
</html>
